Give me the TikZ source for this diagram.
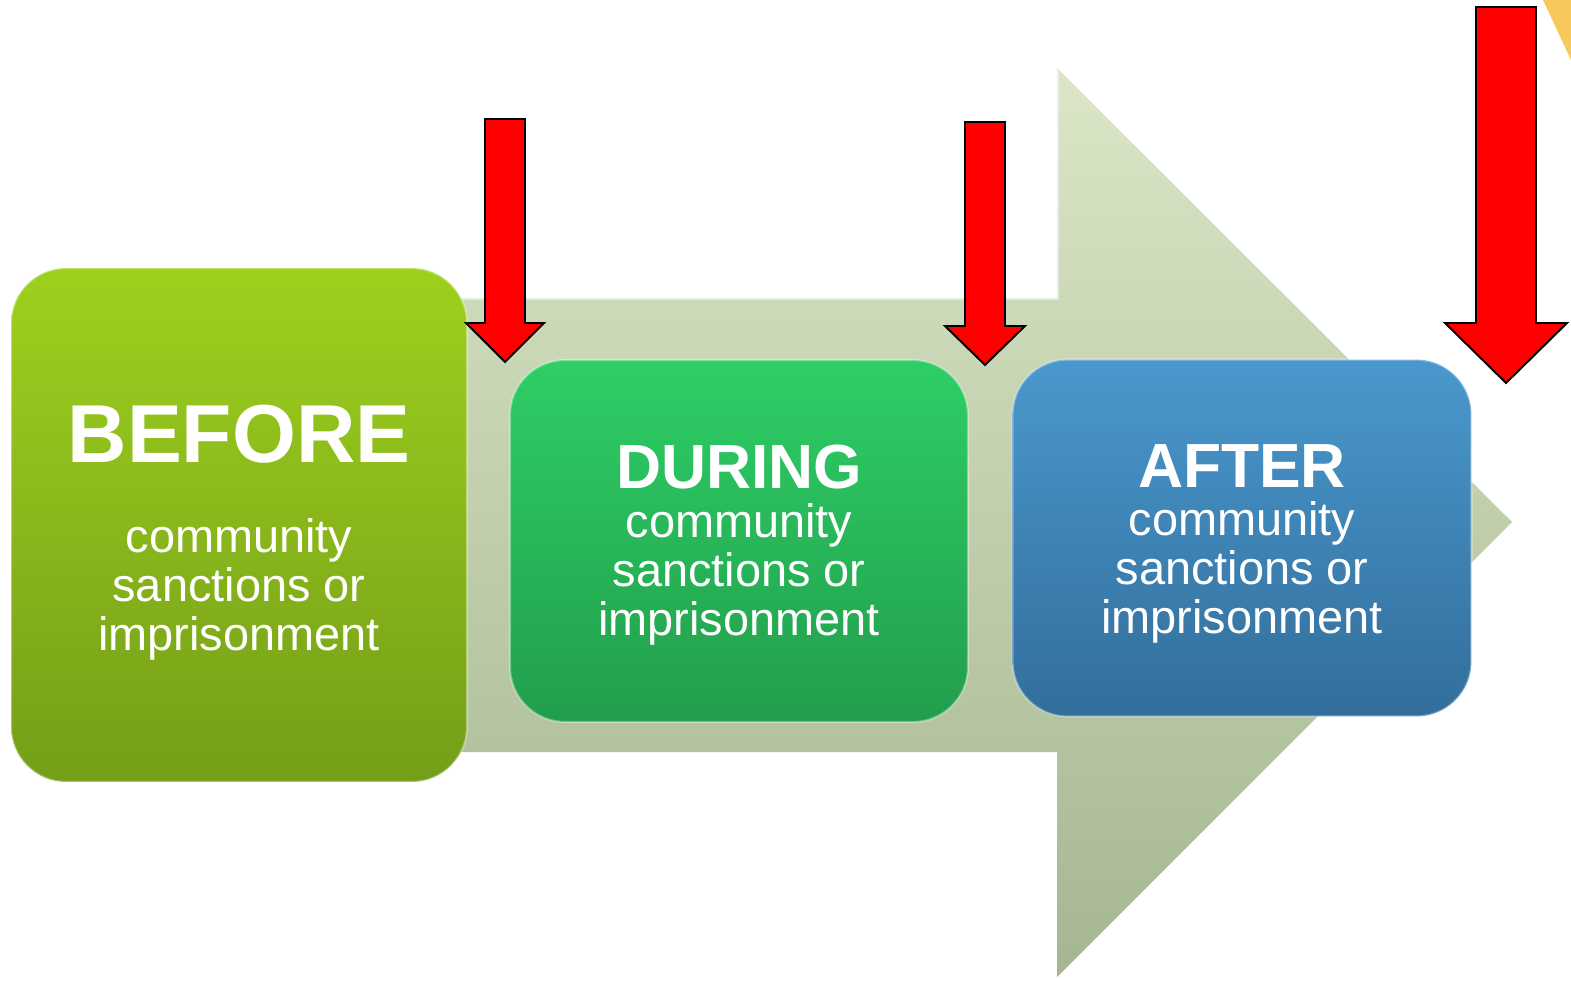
\documentclass[tikz,border=0pt]{standalone}
\usepackage{fontspec}
\setmainfont{Liberation Sans}
\usepackage{xcolor}
\usetikzlibrary{positioning}

\definecolor{arrowtop}{RGB}{218,230,198}
\definecolor{arrowbot}{RGB}{166,182,146}
\definecolor{beforetop}{RGB}{158,208,30}
\definecolor{beforebot}{RGB}{116,158,24}
\definecolor{duringtop}{RGB}{46,206,102}
\definecolor{duringbot}{RGB}{34,158,76}
\definecolor{aftertop}{RGB}{74,152,206}
\definecolor{afterbot}{RGB}{50,110,155}
\definecolor{cornergold}{RGB}{247,200,92}

\begin{document}
\begin{tikzpicture}[x=0.02cm, y=-0.02cm,
        stage/.style={rectangle, rounded corners=1.1cm, inner sep=0pt,
            draw=white, draw opacity=0.35, line width=1.2pt},
        title/.style={text=white, anchor=base, inner sep=0pt},
        body/.style={text=white, align=center, anchor=north, inner sep=0pt,
            font=\fontsize{26.7pt}{27.8pt}\selectfont},
        marker/.style={fill=red, draw=black, line width=1.1pt, line join=miter}
    ]
        \useasboundingbox (0,0) rectangle (1571,980);
        \fill[cornergold] (1543,0) -- (1571,0) -- (1571,60) -- cycle;
        % big arrow behind the stages
        \shade[top color=arrowtop, bottom color=arrowbot]
            (455,298) -- (1057,298) -- (1057,68) -- (1512,522)
            -- (1057,977) -- (1057,752) -- (455,752) -- cycle;
        \draw[white, opacity=0.5, line width=1.5pt] (455,299) -- (1058,299) -- (1058,70);

        \node[stage, top color=beforetop, bottom color=beforebot,
            minimum width=9.12cm, minimum height=10.28cm] (before) at (239,525) {};
        \node[title, font=\bfseries\fontsize{46.8pt}{50pt}\selectfont] (beforetitle) at (239,462) {BEFORE};
        \node[body] (beforebody) at (239,518) {community\\sanctions or\\imprisonment};

        \node[stage, top color=duringtop, bottom color=duringbot,
            minimum width=9.16cm, minimum height=7.24cm] (during) at (739,541) {};
        \node[title, font=\bfseries\fontsize{35.5pt}{40pt}\selectfont] (duringtitle) at (739,488) {DURING};
        \node[body] (duringbody) at (739,503) {community\\sanctions or\\imprisonment};

        \node[stage, top color=aftertop, bottom color=afterbot,
            minimum width=9.18cm, minimum height=7.14cm] (after) at (1242,538) {};
        \node[title, font=\bfseries\fontsize{35.5pt}{40pt}\selectfont] (aftertitle) at (1242,487) {AFTER};
        \node[body] (afterbody) at (1242,501) {community\\sanctions or\\imprisonment};

        % red markers between the stages
        \foreach \cx/\ytop/\yhead/\ytip/\sw/\hw in
            {505/119/323/362/20/39, 985/122/326/365/20/40, 1506/7/323/383/30/61}
            \draw[marker] (\cx-\sw,\ytop) -- (\cx+\sw,\ytop) -- (\cx+\sw,\yhead)
                -- (\cx+\hw,\yhead) -- (\cx,\ytip) -- (\cx-\hw,\yhead)
                -- (\cx-\sw,\yhead) -- cycle;
    \end{tikzpicture}
\end{document}
